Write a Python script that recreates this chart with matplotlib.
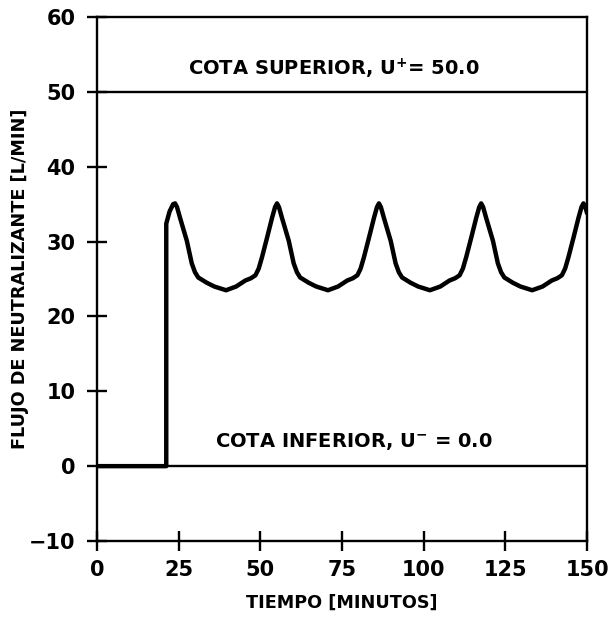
import matplotlib
matplotlib.use("Agg")
import matplotlib.pyplot as plt

plt.rcParams['font.family'] = ['DejaVu Sans']
plt.rcParams['font.weight'] = 'bold'
plt.rcParams['mathtext.default'] = 'bf'

# ── datos: flujo de neutralizante vs tiempo ──
tiempo = [0, 21.2, 21.2, 22.2, 23.3, 23.9, 24.5, 25.4, 27.5, 29.0, 30.0, 31.0, 33.6, 35.9, 39.5,
          42.6, 45.4, 47.1, 48.5, 49.5, 50.5, 52.1, 53.6, 54.5, 55.1, 55.7, 56.6, 58.7, 60.2, 61.2, 62.2, 64.8, 67.1, 70.7,
          73.8, 76.6, 78.3, 79.7, 80.7, 81.7, 83.3, 84.8, 85.7, 86.3, 86.9, 87.8, 89.9, 91.4, 92.4, 93.4, 96.0, 98.3, 101.9,
          105.1, 107.9, 109.6, 111.0, 112.0, 113.0, 114.6, 116.1, 117.0, 117.6, 118.2, 119.1, 121.2, 122.7, 123.7, 124.7, 127.3, 129.6, 133.2,
          136.4, 139.2, 140.9, 142.3, 143.3, 144.3, 145.9, 147.4, 148.3, 148.9, 149.5, 150.0]
flujo = [0, 0, 32.4, 34.0, 35.0, 35.1, 34.6, 33.2, 30.1, 27.1, 25.9, 25.2, 24.5, 24.0, 23.5,
         24.0, 24.8, 25.1, 25.5, 26.4, 27.9, 30.6, 33.2, 34.6, 35.1, 34.6, 33.2, 30.1, 27.1, 25.9, 25.2, 24.5, 24.0, 23.5,
         24.0, 24.8, 25.1, 25.5, 26.4, 27.9, 30.6, 33.2, 34.6, 35.1, 34.6, 33.2, 30.1, 27.1, 25.9, 25.2, 24.5, 24.0, 23.5,
         24.0, 24.8, 25.1, 25.5, 26.4, 27.9, 30.6, 33.2, 34.6, 35.1, 34.6, 33.2, 30.1, 27.1, 25.9, 25.2, 24.5, 24.0, 23.5,
         24.0, 24.8, 25.1, 25.5, 26.4, 27.9, 30.6, 33.2, 34.6, 35.1, 34.6, 33.8]

cota_sup = 50.0
cota_inf = 0.0
xticks = [0, 25, 50, 75, 100, 125, 150]
yticks = [-10, 0, 10, 20, 30, 40, 50, 60]

fig = plt.figure(figsize=(6.12, 6.19), dpi=100, facecolor='white')
ax = fig.add_axes([0.1585, 0.126, 0.8007, 0.8465])

ax.plot(tiempo, flujo, color='black', lw=3.2, solid_joinstyle='round',
        solid_capstyle='round', zorder=3)
ax.axhline(cota_sup, color='black', lw=1.7)
ax.axhline(cota_inf, color='black', lw=1.7)

ax.text(72.6, 53.1, r'COTA SUPERIOR, U$^{+}$= 50.0', ha='center', va='center',
        fontsize=14, fontweight='bold')
ax.text(78.5, 3.3, r'COTA INFERIOR, U$^{-}$ = 0.0', ha='center', va='center',
        fontsize=14, fontweight='bold')

ax.set_xlim(0, 150)
ax.set_ylim(-10, 60)
ax.set_xticks(xticks)
ax.set_yticks(yticks)
ax.tick_params(direction='inout', length=15, width=1.7, labelsize=15)
ax.tick_params(axis='x', pad=6)
ax.tick_params(axis='y', pad=8)
ax.tick_params(top=False, right=False)
for s in ax.spines.values():
    s.set_linewidth(1.7)

ax.set_xlabel('TIEMPO [MINUTOS]', fontsize=12.7, fontweight='bold', labelpad=10)
ax.set_ylabel('FLUJO DE NEUTRALIZANTE [L/MIN]', fontsize=12.7, fontweight='bold',
              labelpad=0)

fig.savefig('out.png', dpi=100, facecolor='white')
